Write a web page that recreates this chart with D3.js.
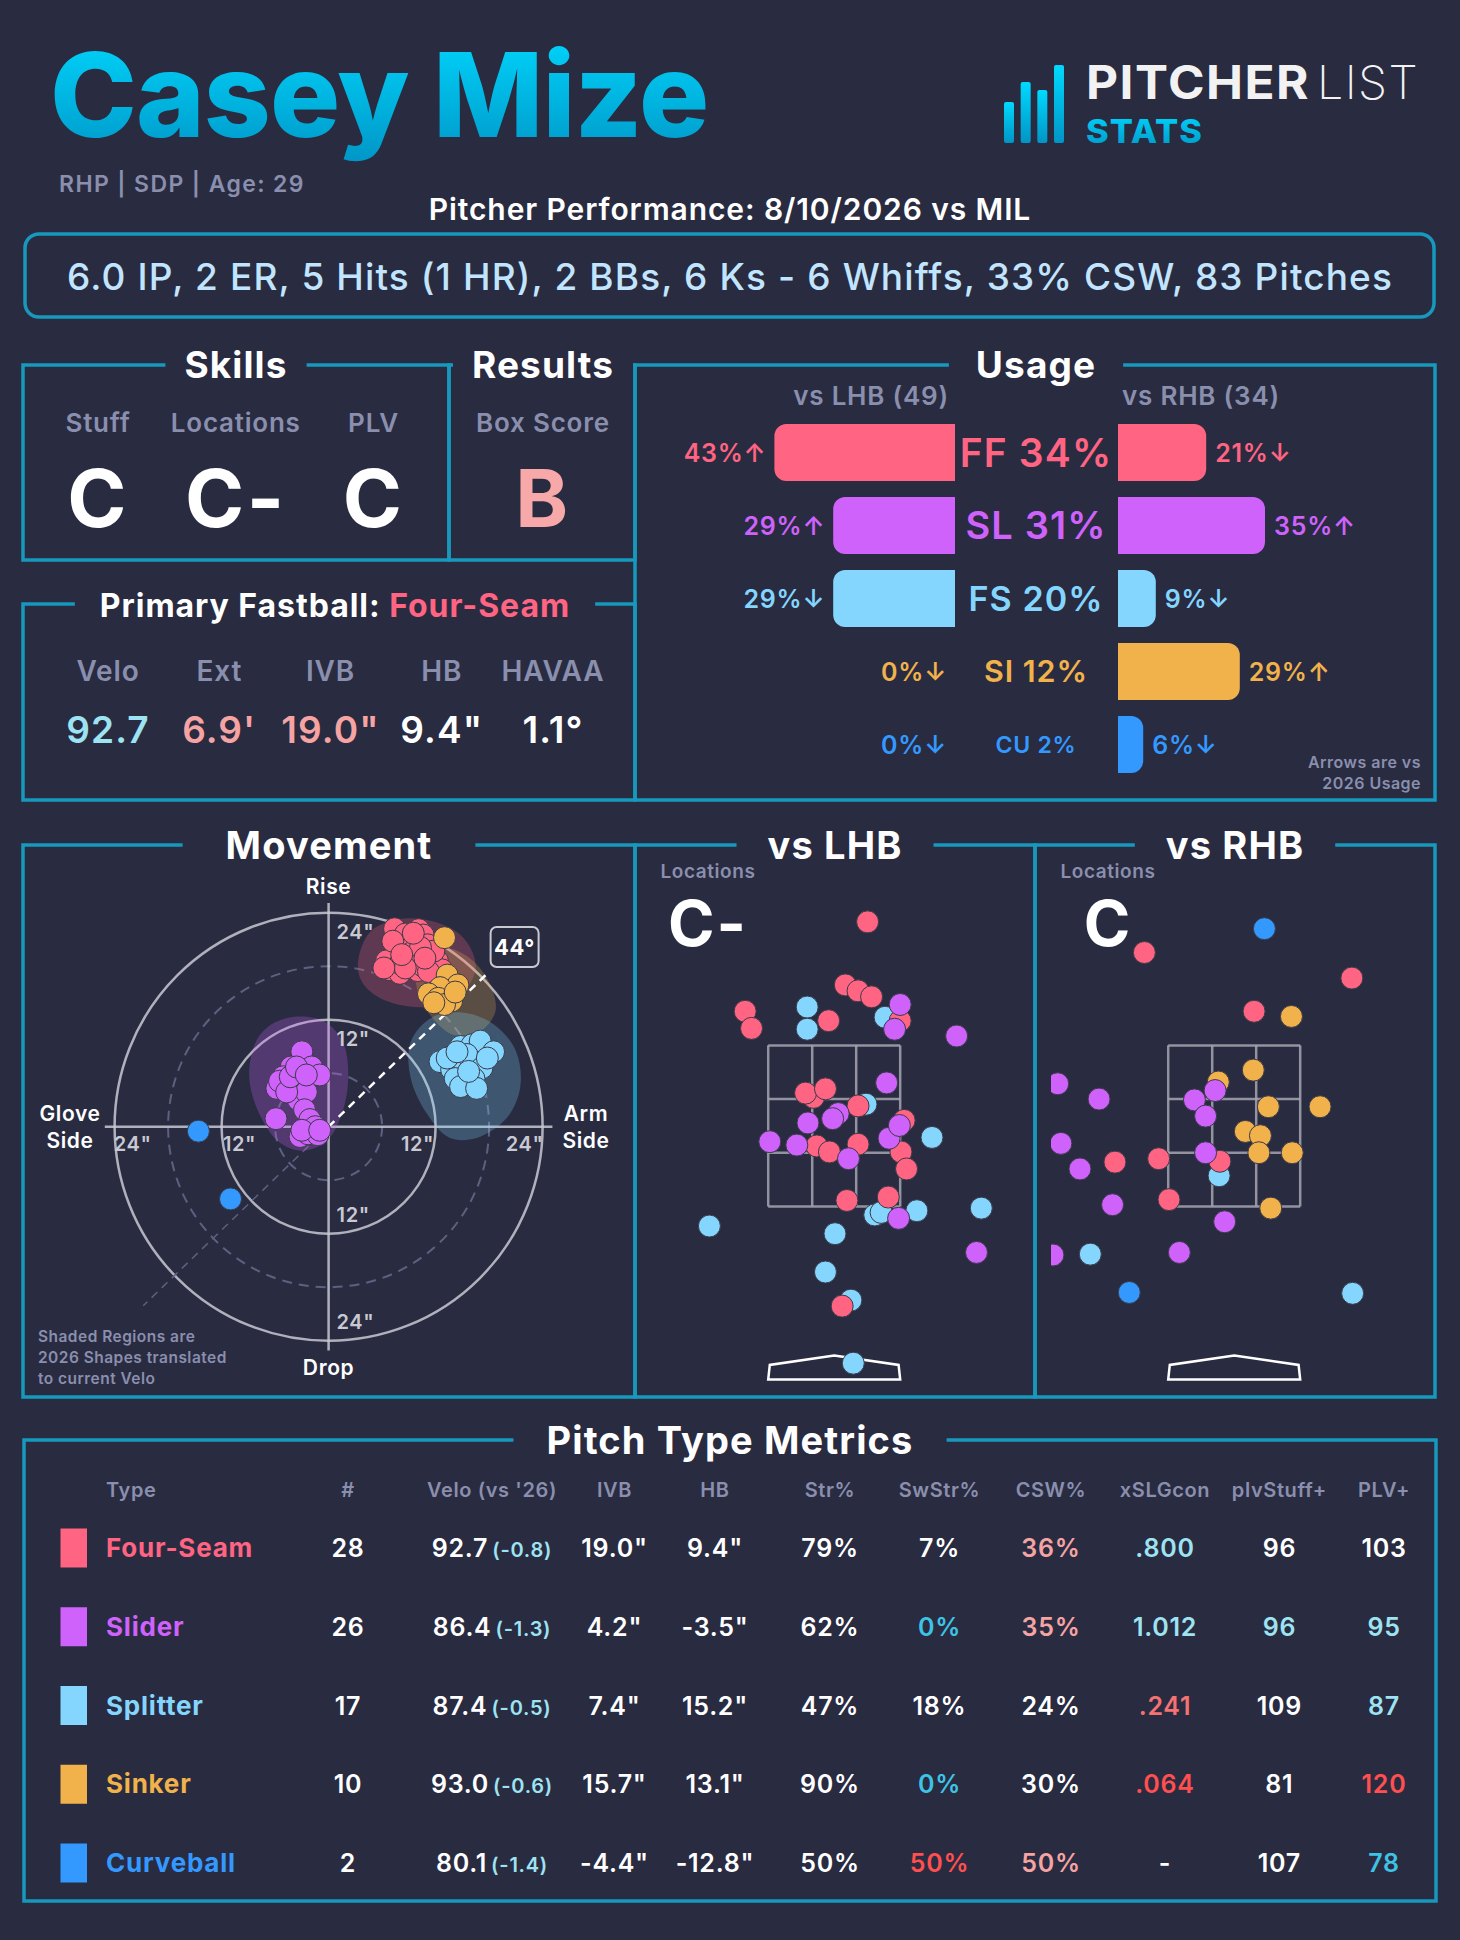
<!DOCTYPE html>
<html>
<head>
<meta charset="utf-8">
<script src="https://cdn.jsdelivr.net/npm/d3@7"></script>
<style>
  html, body { margin: 0; padding: 0; background: #292b41; }
  svg { display: block; font-family: Inter, Lato, "Open Sans", sans-serif; }
  svg text { letter-spacing: 0.03em; }
</style>
</head>
<body>
<div id="chart"></div>
<script>
// ---- data ----
const playerName = 'Casey Mize';
const playerInfo = 'RHP | SDP | Age: 29';
const gameLine = 'Pitcher Performance: 8/10/2026 vs MIL';
const summaryLine = '6.0 IP, 2 ER, 5 Hits (1 HR), 2 BBs, 6 Ks - 6 Whiffs, 33% CSW, 83 Pitches';

const skillLabels = ['Stuff', 'Locations', 'PLV'];
const skillGrades = ['C', 'C-', 'C'];
const resultLabel = 'Box Score';
const resultGrade = 'B';

const fbName = 'Four-Seam';
const fbLabels = ['Velo', 'Ext', 'IVB', 'HB', 'HAVAA'];
const fbValues = ['92.7', "6.9'", '19.0"', '9.4"', '1.1°'];
const fbTones = ['cool', 'warm', 'warm', 'plain', 'plain'];

const pitchTypes = ['FF', 'SL', 'FS', 'SI', 'CU'];
const pitchNames = ['Four-Seam', 'Slider', 'Splitter', 'Sinker', 'Curveball'];
const usageAll = [34, 31, 20, 12, 2];
const usageLHB = [43, 29, 29, 0, 0];
const usageRHB = [21, 35, 9, 29, 6];
const arrowLHB = ['↑', '↑', '↓', '↓', '↓'];
const arrowRHB = ['↓', '↑', '↓', '↑', '↓'];
const countLHB = 49, countRHB = 34;

// movement: [HB, IVB] inches
const mvFF = [[7.4,22.2],[10.1,22.1],[10.6,21.5],[9.0,20.6],[7.5,19.7],[11.1,20.4],[9.9,19.3],[11.5,18.8],
  [6.9,17.6],[8.0,17.2],[10.0,17.5],[12.2,18.6],[9.0,18.6],[6.5,18.6],[10.6,18.0],[8.0,18.3],[12.7,17.6],
  [8.6,21.6],[9.3,19.5],[11.8,19.7],[7.2,20.8],[10.3,20.1],[8.6,17.8],[6.2,17.8],[11.2,17.4],[9.5,21.7],
  [8.2,19.3],[10.8,18.9]];
const mvSI = [[13.0,21.2],[13.3,17.0],[14.5,15.9],[12.5,15.6],[11.2,14.9],[12.3,14.4],[13.8,14.1],
  [13.0,13.7],[11.8,13.9],[14.2,15.1]];
const mvFS = [[14.8,9.0],[16.1,9.2],[17.0,9.6],[18.5,8.4],[12.5,7.3],[13.8,6.4],[15.1,7.1],[15.5,8.1],
  [17.2,6.6],[14.2,5.4],[16.3,5.4],[14.8,4.5],[16.6,4.3],[13.3,7.7],[17.8,7.7],[15.7,6.2],[14.4,8.4]];
const mvSL = [[-3.0,8.4],[-4.2,6.7],[-1.9,6.7],[-1.0,5.8],[-5.1,5.6],[-5.8,4.3],[-3.8,5.3],[-2.9,4.7],
  [-4.5,4.7],[-3.4,3.0],[-2.5,3.9],[-5.5,5.1],[-2.7,1.9],[-5.9,0.9],[-2.1,0.8],[-1.5,0.0],[-3.2,-1.1],
  [-2.3,-0.8],[-1.2,-0.9],[-4.0,5.8],[-4.7,3.9],[-4.3,5.6],[-3.6,6.7],[-2.5,5.8],[-3.0,-0.4],[-1.0,-0.4]];
const mvCU = [[-14.6,-0.5],[-11.0,-8.1]];

// 2026 shapes (outline points, inches)
const shapeFF = [[3.3,18.5],[4.7,21.9],[8.0,23.3],[11.8,23.0],[15.1,21.2],[16.5,17.8],[14.4,14.4],[10.3,13.4],[5.8,14.4],[3.7,16.3]];
const shapeSI = [[10.1,18.7],[13.3,20.0],[16.3,18.5],[18.3,15.5],[18.7,12.9],[17.0,10.7],[14.0,10.3],[11.4,12.5],[9.9,15.5]];
const shapeFS = [[9.2,9.5],[11.5,12.2],[15.0,12.8],[18.5,11.5],[21.0,8.5],[21.5,4.5],[20.0,1.0],[16.5,-1.3],[13.5,-1.2],[11.0,1.5],[9.2,5.5]];
const shapeSL = [[-6.8,11.2],[-4.0,12.3],[-0.5,11.8],[1.6,9.5],[2.2,5.5],[1.5,1.5],[-0.2,-1.6],[-3.0,-2.7],[-5.6,-1.7],[-7.8,1.5],[-8.9,5.5],[-8.3,9.2]];
const armAngle = 44;

// locations: [plate_x, plate_z] feet
const lhbFF = [[0.42,4.95],[-1.12,3.90],[-1.04,3.70],[0.14,4.21],[0.30,4.14],[0.47,4.07],[-0.07,3.79],[0.83,3.79],
  [-0.26,2.89],[-0.36,2.94],[-0.11,2.99],[0.30,2.79],[-0.22,2.32],[-0.06,2.25],[0.30,2.34],[0.88,2.62],
  [0.84,2.25],[0.91,2.05],[0.16,1.68],[0.68,1.72],[0.10,0.44]];
const lhbSL = [[0.83,3.98],[0.76,3.69],[1.54,3.61],[0.66,3.06],[0.05,2.70],[-0.02,2.64],[-0.33,2.59],[-0.81,2.37],
  [-0.47,2.33],[0.18,2.17],[0.69,2.41],[0.82,2.56],[0.81,1.47],[1.79,1.07]];
const lhbFS = [[-0.34,3.95],[-0.34,3.69],[0.64,3.83],[0.40,2.81],[1.23,2.42],[-1.57,1.38],[0.01,1.29],[0.51,1.51],
  [0.59,1.54],[1.04,1.56],[1.85,1.59],[-0.11,0.84],[0.21,0.51],[0.24,-0.23]];
const rhbFF = [[-1.13,4.59],[1.48,4.29],[0.25,3.90],[-1.50,2.13],[-0.95,2.17],[-0.18,2.14],[-0.82,1.69]];
const rhbSL = [[-2.22,3.05],[-1.70,2.87],[-2.18,2.35],[-1.94,2.05],[-1.53,1.63],[-2.28,1.04],[-0.69,1.07],
  [-0.12,1.43],[-0.50,2.86],[-0.24,2.97],[-0.36,2.67],[-0.36,2.24]];
const rhbFS = [[-0.19,1.97],[-1.81,1.05],[1.49,0.59]];
const rhbSI = [[0.72,3.84],[0.24,3.21],[-0.20,3.07],[0.43,2.78],[1.08,2.78],[0.14,2.49],[0.33,2.44],
  [0.31,2.24],[0.73,2.24],[0.46,1.59]];
const rhbCU = [[0.38,4.87],[-1.32,0.60]];
const gradeLHB = 'C-', gradeRHB = 'C';

// pitch type metrics
const tableHeaders = ['Type', '#', "Velo (vs '26)", 'IVB', 'HB', 'Str%', 'SwStr%', 'CSW%', 'xSLGcon', 'plvStuff+', 'PLV+'];
const counts = [28, 26, 17, 10, 2];
const velo = ['92.7', '86.4', '87.4', '93.0', '80.1'];
const veloDiff = ['-0.8', '-1.3', '-0.5', '-0.6', '-1.4'];
const ivb = ['19.0"', '4.2"', '7.4"', '15.7"', '-4.4"'];
const hb = ['9.4"', '-3.5"', '15.2"', '13.1"', '-12.8"'];
const strPct = ['79%', '62%', '47%', '90%', '50%'];
const swStrPct = ['7%', '0%', '18%', '0%', '50%'];
const cswPct = ['36%', '35%', '24%', '30%', '50%'];
const xslgCon = ['.800', '1.012', '.241', '.064', '-'];
const plvStuff = ['96', '96', '109', '81', '107'];
const plvPlus = ['103', '95', '87', '120', '78'];
const swStrTone = ['plain', 'cold', 'plain', 'cold', 'hot'];
const cswTone = ['warm', 'warm', 'plain', 'plain', 'warm'];
const xslgTone = ['cool', 'cool', 'red', 'hot', 'plain'];
const plvStuffTone = ['plain', 'cool', 'plain', 'plain', 'plain'];
const plvTone = ['plain', 'cool', 'cool', 'hot', 'cold'];

// ---- styles ----
const W = 1460, H = 1940;
const BG = '#292b41', TEAL = '#1799bd', GREY = '#8a8fae', GRID = '#c9c9d3';
const pitchColors = { FF: '#ff6482', SL: '#cf62fb', FS: '#84d6ff', SI: '#f1b24b', CU: '#3399ff' };
const tones = { plain: '#ffffff', cool: '#9ee3f1', warm: '#f5a3a3', red: '#f47272', hot: '#ff4f4f', cold: '#3ec3e6' };

const svg = d3.select('#chart').append('svg')
    .attr('width', W).attr('height', H).attr('viewBox', `0 0 ${W} ${H}`);
svg.append('rect').attr('width', W).attr('height', H).attr('fill', BG);

const defs = svg.append('defs');
const grad = defs.append('linearGradient').attr('id', 'cyanGrad')
    .attr('x1', 0).attr('y1', 0).attr('x2', 0).attr('y2', 1);
grad.append('stop').attr('offset', '0%').attr('stop-color', '#00d9ff');
grad.append('stop').attr('offset', '100%').attr('stop-color', '#0095c6');

function txt(g, x, y, s, size, weight, fill, anchor) {
    return g.append('text').attr('x', x).attr('y', y)
        .attr('font-size', size).attr('font-weight', weight)
        .attr('fill', fill).attr('text-anchor', anchor || 'start').text(s);
}

// ---- header ----
txt(svg, 50, 137, playerName, 117, 800, 'url(#cyanGrad)').style('letter-spacing', '-1px');

const logoBars = [41, 61, 53, 78];
const logoX = d3.scaleBand().domain(d3.range(logoBars.length)).range([1004, 1064]).paddingInner(0.4);
svg.append('g').selectAll('rect').data(logoBars).join('rect')
    .attr('x', (d, i) => logoX(i)).attr('y', d => 143 - d)
    .attr('width', logoX.bandwidth()).attr('height', d => d)
    .attr('rx', 2).attr('fill', 'url(#cyanGrad)');
txt(svg, 1086, 99, 'PITCHER', 46, 700, '#f2f2f2').attr('textLength', 224).attr('lengthAdjust', 'spacingAndGlyphs');
txt(svg, 1317, 99, 'LIST', 46, 200, '#f2f2f2').attr('textLength', 102).attr('lengthAdjust', 'spacingAndGlyphs');
txt(svg, 1086, 142.5, 'STATS', 33, 800, 'url(#cyanGrad)').attr('textLength', 117).attr('lengthAdjust', 'spacingAndGlyphs');

txt(svg, 59, 192, playerInfo, 23, 600, GREY).style('letter-spacing', '0.06em');
txt(svg, 730, 220, gameLine, 30, 600, '#ffffff', 'middle');

svg.append('rect').attr('x', 25).attr('y', 234).attr('width', 1409).attr('height', 83).attr('rx', 14)
    .attr('fill', 'none').attr('stroke', TEAL).attr('stroke-width', 3.5);
txt(svg, 730, 290, summaryLine, 37, 500, '#c2e5ff', 'middle');

// ---- frames ----
const gFrames = svg.append('g');
const gMasks = svg.append('g');
const gTitles = svg.append('g');

function frame(x, y, w, h) {
    gFrames.append('rect').attr('x', x).attr('y', y).attr('width', w).attr('height', h)
        .attr('fill', 'none').attr('stroke', TEAL).attr('stroke-width', 3.5);
}
function title(parts, cx, y, size, pad) {
    const t = gTitles.append('text').attr('x', cx).attr('y', y + size * 0.36)
        .attr('font-size', size).attr('font-weight', 700).attr('text-anchor', 'middle');
    parts.forEach(p => t.append('tspan').attr('fill', p[1]).text(p[0]));
    const bb = t.node().getBBox();
    gMasks.append('rect').attr('x', bb.x - pad).attr('y', y - 6)
        .attr('width', bb.width + 2 * pad).attr('height', 12).attr('fill', BG);
}

frame(23, 365, 426, 195);
frame(449, 365, 186, 195);
frame(635, 365, 800, 435);
frame(23, 604, 612, 196);
frame(23, 845, 612, 552);
frame(635, 845, 400, 552);
frame(1035, 845, 400, 552);
frame(24, 1440, 1412, 461);

title([['Skills', '#fff']], 236, 365, 37, 19);
title([['Results', '#fff']], 543, 365, 37, 19);
title([['Usage', '#fff']], 1036, 365, 37, 27);
title([['Primary Fastball: ', '#fff'], [fbName, pitchColors.FF]], 335, 605, 32, 25);
title([['Movement', '#fff']], 329, 845, 38, 43);
title([['vs LHB', '#fff']], 835, 845, 38, 31);
title([['vs RHB', '#fff']], 1235, 845, 38, 31);
title([['Pitch Type Metrics', '#fff']], 730, 1440, 38, 33);

// ---- skills / results ----
const gSkills = svg.append('g');
const skillX = d3.scalePoint().domain(skillLabels).range([98, 373.5]);
skillLabels.forEach((s, i) => {
    txt(gSkills, skillX(s), 432, s, 26, 600, GREY, 'middle');
    txt(gSkills, skillX(s), 527, skillGrades[i], 80, 700, '#ffffff', 'middle');
});
txt(gSkills, 543, 432, resultLabel, 26, 600, GREY, 'middle');
txt(gSkills, 543, 527, resultGrade, 80, 700, '#f7a8a8', 'middle');

// ---- primary fastball ----
const gFb = svg.append('g');
const fbX = d3.scalePoint().domain(fbLabels).range([108, 553]);
fbLabels.forEach((s, i) => {
    txt(gFb, fbX(s), 681, s, 28, 600, GREY, 'middle');
    txt(gFb, fbX(s), 743, fbValues[i], 37, 600, tones[fbTones[i]], 'middle');
});

// ---- usage ----
const gUse = svg.append('g');
const useW = d3.scaleLinear().domain([0, 100]).range([0, 420]);
const useY = d3.scalePoint().domain(pitchTypes).range([452.5, 744.5]);
const useFont = d3.scaleSqrt().domain([0, 34]).range([18, 39]);
const barH = 57, lhbEdge = 955, rhbEdge = 1118, cornerR = 12;

function sideBar(x0, y, w, h, r, dir) {
    if (w <= 0) return null;
    r = Math.min(r, w, h / 2);
    const xe = x0 + dir * w;
    const sweep = dir > 0 ? 1 : 0;
    return `M${x0},${y}H${xe - dir * r}A${r},${r} 0 0 ${sweep} ${xe},${y + r}` +
        `V${y + h - r}A${r},${r} 0 0 ${sweep} ${xe - dir * r},${y + h}H${x0}Z`;
}

txt(gUse, 949, 405, `vs LHB (${countLHB})`, 26, 600, GREY, 'end');
txt(gUse, 1122, 405, `vs RHB (${countRHB})`, 26, 600, GREY, 'start');

pitchTypes.forEach((p, i) => {
    const cy = useY(p), col = pitchColors[p];
    const wl = useW(usageLHB[i]), wr = useW(usageRHB[i]);
    const pl = sideBar(lhbEdge, cy - barH / 2, wl, barH, cornerR, -1);
    if (pl) gUse.append('path').attr('d', pl).attr('fill', col);
    const pr = sideBar(rhbEdge, cy - barH / 2, wr, barH, cornerR, 1);
    if (pr) gUse.append('path').attr('d', pr).attr('fill', col);
    txt(gUse, lhbEdge - wl - 8, cy + 9, usageLHB[i] + '%' + arrowLHB[i], 25, 600, col, 'end');
    txt(gUse, rhbEdge + wr + 9, cy + 9, usageRHB[i] + '%' + arrowRHB[i], 25, 600, col, 'start');
    const fs = useFont(usageAll[i]);
    txt(gUse, 1036, cy + fs * 0.36, `${p} ${usageAll[i]}%`, fs, 600, col, 'middle');
});
txt(gUse, 1421, 768, 'Arrows are vs', 16, 600, GREY, 'end');
txt(gUse, 1421, 789, '2026 Usage', 16, 600, GREY, 'end');

// ---- movement ----
const gMv = svg.append('g');
const mvCx = 328.6, mvCy = 1126.7;
const mvR = d3.scaleLinear().domain([0, 24]).range([0, 214]);
const mvX = d3.scaleLinear().domain([-24, 24]).range([mvCx - mvR(24), mvCx + mvR(24)]);
const mvY = d3.scaleLinear().domain([-24, 24]).range([mvCy + mvR(24), mvCy - mvR(24)]);

[6, 12, 18, 24].forEach(r => {
    const dashed = r % 12 !== 0;
    gMv.append('circle').attr('cx', mvCx).attr('cy', mvCy).attr('r', mvR(r))
        .attr('fill', 'none')
        .attr('stroke', dashed ? '#5d6180' : GRID)
        .attr('stroke-opacity', dashed ? 1 : 0.85)
        .attr('stroke-width', dashed ? 2 : 2.5)
        .attr('stroke-dasharray', dashed ? '10,7' : null);
});
gMv.append('line').attr('x1', mvX(-25.1)).attr('x2', mvX(25.1)).attr('y1', mvY(0)).attr('y2', mvY(0))
    .attr('stroke', GRID).attr('stroke-opacity', 0.85).attr('stroke-width', 2.5);
gMv.append('line').attr('x1', mvX(0)).attr('x2', mvX(0)).attr('y1', mvY(25.1)).attr('y2', mvY(-25.1))
    .attr('stroke', GRID).attr('stroke-opacity', 0.85).attr('stroke-width', 2.5);

const rad = armAngle * Math.PI / 180;
gMv.append('line').attr('x1', mvX(0)).attr('y1', mvY(0))
    .attr('x2', mvX(-28.9 * Math.cos(rad))).attr('y2', mvY(-28.9 * Math.sin(rad)))
    .attr('stroke', '#5d6180').attr('stroke-width', 1.5).attr('stroke-dasharray', '8,6');

const blob = d3.line().x(d => mvX(d[0])).y(d => mvY(d[1])).curve(d3.curveCatmullRomClosed.alpha(0.5));
[['FF', shapeFF], ['SI', shapeSI], ['FS', shapeFS], ['SL', shapeSL]].forEach(([p, pts]) => {
    gMv.append('path').attr('d', blob(pts)).attr('fill', pitchColors[p]).attr('fill-opacity', 0.25);
});

gMv.append('line').attr('x1', mvX(0)).attr('y1', mvY(0))
    .attr('x2', mvX(24.8 * Math.cos(rad))).attr('y2', mvY(24.8 * Math.sin(rad)))
    .attr('stroke', '#ffffff').attr('stroke-width', 2.5).attr('stroke-dasharray', '8,6');

[['FF', mvFF], ['SI', mvSI], ['FS', mvFS], ['SL', mvSL], ['CU', mvCU]].forEach(([p, pts]) => {
    gMv.append('g').selectAll('circle').data(pts).join('circle')
        .attr('cx', d => mvX(d[0])).attr('cy', d => mvY(d[1])).attr('r', 11)
        .attr('fill', pitchColors[p]).attr('stroke', '#3a3a48').attr('stroke-width', 1);
});

const boxX = mvX(29 * Math.cos(rad)), boxY = mvY(29 * Math.sin(rad));
gMv.append('rect').attr('x', boxX - 24).attr('y', boxY - 20).attr('width', 48).attr('height', 40).attr('rx', 6)
    .attr('fill', BG).attr('stroke', GRID).attr('stroke-width', 2);
txt(gMv, boxX, boxY + 8, armAngle + '°', 22, 700, '#ffffff', 'middle');

[12, 24].forEach(r => {
    txt(gMv, mvX(0) + 8, mvY(r) + 26, r + '"', 20, 600, GRID);
    txt(gMv, mvX(0) + 8, mvY(-r) - 12, r + '"', 20, 600, GRID);
    txt(gMv, mvX(-r) + 18, mvY(0) + 24, r + '"', 20, 600, GRID, 'middle');
    txt(gMv, mvX(r) - 18, mvY(0) + 24, r + '"', 20, 600, GRID, 'middle');
});
txt(gMv, mvX(0), 894, 'Rise', 21, 600, '#ffffff', 'middle');
txt(gMv, mvX(0), 1375, 'Drop', 21, 600, '#ffffff', 'middle');
txt(gMv, 70, 1121, 'Glove', 21, 600, '#ffffff', 'middle');
txt(gMv, 70, 1148, 'Side', 21, 600, '#ffffff', 'middle');
txt(gMv, 586, 1121, 'Arm', 21, 600, '#ffffff', 'middle');
txt(gMv, 586, 1148, 'Side', 21, 600, '#ffffff', 'middle');
['Shaded Regions are', '2026 Shapes translated', 'to current Velo'].forEach((s, i) => {
    txt(gMv, 38, 1342 + i * 21, s, 15.5, 600, GREY);
});

// ---- locations ----
function locPanel(px, grade, series, clipId) {
    const g = svg.append('g');
    const cx = px + 199.2;
    const lx = d3.scaleLinear().domain([-1, 1]).range([cx - 79.5, cx + 79.5]);
    const ly = d3.scaleLinear().domain([0, 1]).range([1343.6, 1343.6 - 85.2]);
    txt(g, px + 73, 878, 'Locations', 19, 600, GREY, 'middle');
    txt(g, px + 73, 946, grade, 63, 700, '#ffffff', 'middle');

    const zx = [-0.83, -0.83 / 3, 0.83 / 3, 0.83], zz = [1.61, 1.61 + 1.89 / 3, 1.61 + 2 * 1.89 / 3, 3.5];
    zx.forEach(v => g.append('line').attr('x1', lx(v)).attr('x2', lx(v)).attr('y1', ly(zz[0])).attr('y2', ly(zz[3]))
        .attr('stroke', '#a6a6b2').attr('stroke-opacity', 0.85).attr('stroke-width', 2.5));
    zz.forEach(v => g.append('line').attr('x1', lx(zx[0])).attr('x2', lx(zx[3])).attr('y1', ly(v)).attr('y2', ly(v))
        .attr('stroke', '#a6a6b2').attr('stroke-opacity', 0.85).attr('stroke-width', 2.5));

    const plate = [[0, -0.14], [0.81, -0.25], [0.83, -0.42], [-0.83, -0.42], [-0.81, -0.25]];
    g.append('path').attr('d', d3.line().x(d => lx(d[0])).y(d => ly(d[1]))(plate) + 'Z')
        .attr('fill', 'none').attr('stroke', '#ffffff').attr('stroke-width', 2.5);

    defs.append('clipPath').attr('id', clipId).append('rect')
        .attr('x', px + 16).attr('y', 850).attr('width', 368).attr('height', 540);
    const gp = g.append('g').attr('clip-path', `url(#${clipId})`);
    series.forEach(([p, pts]) => {
        gp.append('g').selectAll('circle').data(pts).join('circle')
            .attr('cx', d => lx(d[0])).attr('cy', d => ly(d[1])).attr('r', 11)
            .attr('fill', pitchColors[p]).attr('stroke', '#3a3a48').attr('stroke-width', 1);
    });
}
locPanel(635, gradeLHB, [['FS', lhbFS], ['FF', lhbFF], ['SL', lhbSL]], 'clipL');
locPanel(1035, gradeRHB, [['FS', rhbFS], ['FF', rhbFF], ['SI', rhbSI], ['SL', rhbSL], ['CU', rhbCU]], 'clipR');

// ---- pitch type metrics ----
const gTab = svg.append('g');
const rowY = d3.scalePoint().domain(pitchNames).range([1548, 1863]);
const colX = [106, 348, 492, 614.5, 715, 830, 939.5, 1051, 1165, 1279.4, 1384];
tableHeaders.forEach((h, j) => {
    txt(gTab, colX[j], 1497, h, 20, 600, GREY, j === 0 ? 'start' : 'middle');
});
pitchNames.forEach((n, i) => {
    const y = rowY(n), p = pitchTypes[i], base = y + 9;
    gTab.append('rect').attr('x', 60.5).attr('y', y - 19.5).attr('width', 26.5).attr('height', 39)
        .attr('fill', pitchColors[p]);
    txt(gTab, colX[0], base, n, 26, 700, pitchColors[p]);
    txt(gTab, colX[1], base, counts[i], 25, 600, '#ffffff', 'middle');
    const v = txt(gTab, colX[2], base, '', 25, 600, '#ffffff', 'middle');
    v.append('tspan').text(velo[i]);
    v.append('tspan').attr('dx', 4).attr('font-size', 20).attr('fill', tones.cool).text(`(${veloDiff[i]})`);
    txt(gTab, colX[3], base, ivb[i], 25, 600, '#ffffff', 'middle');
    txt(gTab, colX[4], base, hb[i], 25, 600, '#ffffff', 'middle');
    txt(gTab, colX[5], base, strPct[i], 25, 600, '#ffffff', 'middle');
    txt(gTab, colX[6], base, swStrPct[i], 25, 600, tones[swStrTone[i]], 'middle');
    txt(gTab, colX[7], base, cswPct[i], 25, 600, tones[cswTone[i]], 'middle');
    txt(gTab, colX[8], base, xslgCon[i], 25, 600, tones[xslgTone[i]], 'middle');
    txt(gTab, colX[9], base, plvStuff[i], 25, 600, tones[plvStuffTone[i]], 'middle');
    txt(gTab, colX[10], base, plvPlus[i], 25, 600, tones[plvTone[i]], 'middle');
});
</script>
</body>
</html>
